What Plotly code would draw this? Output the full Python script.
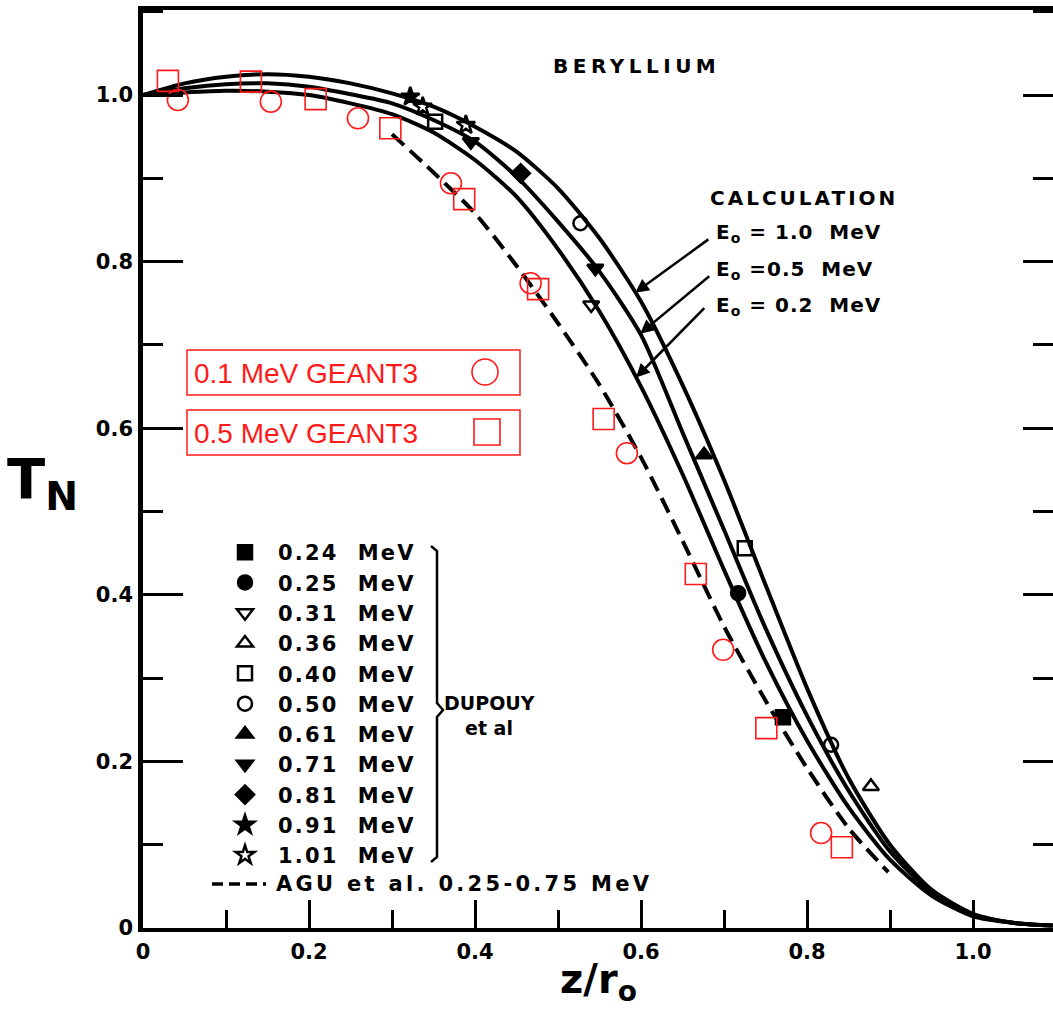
import numpy as np
import plotly.graph_objects as go

# ---------------------------------------------------------------- data
# Calculated transmission curves T_N(z/r0) for beryllium
calc_z = [0.0, 0.05, 0.10, 0.15, 0.20, 0.25, 0.30, 0.35, 0.40, 0.45, 0.50, 0.55,
          0.60, 0.65, 0.70, 0.75, 0.80, 0.85, 0.90, 0.95, 1.00, 1.05, 1.096]
t_e10 = [1.000, 1.014, 1.022, 1.025, 1.022, 1.014, 1.002, 0.986, 0.962, 0.932, 0.888, 0.828,
         0.752, 0.652, 0.538, 0.412, 0.288, 0.180, 0.100, 0.046, 0.017, 0.006, 0.003]
t_e05 = [1.000, 1.008, 1.013, 1.014, 1.010, 1.001, 0.990, 0.970, 0.944, 0.902, 0.848, 0.788,
         0.712, 0.595, 0.478, 0.360, 0.255, 0.165, 0.092, 0.043, 0.016, 0.006, 0.003]
t_e02 = [1.000, 1.003, 1.005, 1.004, 1.000, 0.990, 0.977, 0.955, 0.922, 0.878, 0.815, 0.740,
         0.650, 0.545, 0.430, 0.320, 0.225, 0.145, 0.082, 0.039, 0.014, 0.006, 0.003]

# Agu et al., 0.25-0.75 MeV
agu_z = [0.30, 0.35, 0.40, 0.45, 0.50, 0.55, 0.60, 0.65, 0.70, 0.75, 0.80, 0.85, 0.898]
agu_t = [0.953, 0.907, 0.858, 0.795, 0.726, 0.652, 0.565, 0.465, 0.362, 0.273, 0.192, 0.120, 0.067]

# GEANT3 simulations
g01_z = [0.042, 0.154, 0.259, 0.371, 0.467, 0.583, 0.699, 0.817]
g01_t = [0.994, 0.992, 0.972, 0.894, 0.774, 0.570, 0.334, 0.114]
g05_z = [0.030, 0.130, 0.208, 0.298, 0.387, 0.476, 0.555, 0.666, 0.751, 0.842]
g05_t = [1.017, 1.016, 0.995, 0.960, 0.875, 0.767, 0.611, 0.425, 0.240, 0.097]

# Dupouy et al. measurements
dup_labels = ["0.24  MeV", "0.25  MeV", "0.31  MeV", "0.36  MeV", "0.40  MeV", "0.50  MeV",
              "0.61  MeV", "0.71  MeV", "0.81  MeV", "0.91  MeV", "1.01  MeV"]
dup_symbols = ["square", "circle", "triangle-down-open", "triangle-up-open", "square-open",
               "circle-open", "triangle-up", "triangle-down", "diamond", "star", "star-open"]
dup_z = [[0.771], [0.717], [0.540], [0.877], [0.352, 0.725], [0.527, 0.829],
         [0.676], [0.395, 0.545], [0.455], [0.322], [0.337, 0.389]]
dup_t = [[0.253], [0.402], [0.748], [0.170], [0.968, 0.456], [0.846, 0.220],
         [0.568], [0.944, 0.792], [0.906], [0.998], [0.986, 0.964]]

tick_vals = [0.0, 0.2, 0.4, 0.6, 0.8, 1.0]
tick_text = ["0", "0.2", "0.4", "0.6", "0.8", "1.0"]

# ---------------------------------------------------------------- layout helpers
W, H = 1053, 1013
ML, MR, MT, MB = 143, 0, 10, 85
PW, PH = W - ML - MR, H - MT - MB


def xp(px):
    return (px - ML) / PW


def yp(py):
    return (H - MB - py) / PH


def spaced(text, px):
    return f'<span style="letter-spacing:{px}px">{text}</span>'


BOLD = dict(family="DejaVu Sans", color="black", weight="bold")
RED = "#ff1a1a"


def label(text, x, y, size, xanchor="center", **font):
    f = dict(size=size, **BOLD)
    f.update(font)
    return dict(text=text, x=xp(x), y=yp(y), xref="paper", yref="paper",
                xanchor=xanchor, yanchor="middle", showarrow=False, font=f)


fig = go.Figure()

# calculation curves
for t_vals in (t_e10, t_e05, t_e02):
    fig.add_trace(go.Scatter(x=calc_z, y=t_vals, mode="lines",
                             line=dict(color="black", width=4, shape="spline", smoothing=0.7),
                             showlegend=False, hoverinfo="skip"))

# Agu et al. dashed curve
fig.add_trace(go.Scatter(x=agu_z, y=agu_t, mode="lines",
                         line=dict(color="black", width=4, dash="16px,8px", shape="spline", smoothing=0.7),
                         showlegend=False, hoverinfo="skip"))

# Dupouy et al. points
for lab, sym, zz, tt in zip(dup_labels, dup_symbols, dup_z, dup_t):
    fig.add_trace(go.Scatter(x=zz, y=tt, mode="markers", name=spaced(lab, 2.2),
                             marker=dict(symbol=sym, size=14, color="black",
                                         line=dict(color="black", width=2.5)),
                             hoverinfo="skip"))

# GEANT3 points
fig.add_trace(go.Scatter(x=g01_z, y=g01_t, mode="markers", showlegend=False,
                         marker=dict(symbol="circle-open", size=21, color=RED, line=dict(width=1.6)),
                         hoverinfo="skip"))
fig.add_trace(go.Scatter(x=g05_z, y=g05_t, mode="markers", showlegend=False,
                         marker=dict(symbol="square-open", size=21, color=RED, line=dict(width=1.6)),
                         hoverinfo="skip"))

# invisible trace carrying the right-hand tick axis
fig.add_trace(go.Scatter(x=[0], y=[0], yaxis="y2", mode="markers", marker=dict(opacity=0),
                         showlegend=False, hoverinfo="skip"))

annotations = []
shapes = []

# plot labels
annotations.append(label(spaced("BERYLLIUM", 4.5), 636, 66, 20))
annotations.append(label(spaced("CALCULATION", 3), 804, 198, 20))
e_labels = ["E<sub>o</sub> = 1.0  MeV", "E<sub>o</sub> =0.5  MeV", "E<sub>o</sub> = 0.2  MeV"]
e_ypix = [233, 270, 306]
for txt, yy in zip(e_labels, e_ypix):
    annotations.append(label(spaced(txt, 1), 714, yy, 20, xanchor="left"))

# arrows from the energy labels to the curves
arrow_tip_z = [0.593, 0.599, 0.594]
arrow_tail = [(0.683, 0.828), (0.684, 0.784), (0.678, 0.746)]
for zt, curve, tail in zip(arrow_tip_z, (t_e10, t_e05, t_e02), arrow_tail):
    annotations.append(dict(text="", x=zt, y=float(np.interp(zt, calc_z, curve)),
                            xref="x", yref="y", axref="x", ayref="y", ax=tail[0], ay=tail[1],
                            showarrow=True, arrowhead=2, arrowsize=1.1, arrowwidth=2.5,
                            arrowcolor="black", standoff=0, startstandoff=0))

# axis titles
annotations.append(label("T<sub>N</sub>", 42, 482, 56))
annotations.append(label("z/r<sub>o</sub>", 598, 982, 40))

# GEANT3 key boxes
for (y0, y1), txt in zip([(350, 395), (410, 455)], ["0.1 MeV GEANT3", "0.5 MeV GEANT3"]):
    shapes.append(dict(type="rect", xref="paper", yref="paper", x0=xp(187), x1=xp(520),
                       y0=yp(y1), y1=yp(y0), line=dict(color=RED, width=1.5)))
    annotations.append(label(txt, 192, (y0 + y1) / 2 + 1, 28, xanchor="left",
                             family="Liberation Sans", color=RED, weight="normal"))
shapes.append(dict(type="circle", xref="paper", yref="paper", x0=xp(472), x1=xp(498),
                   y0=yp(385), y1=yp(359), line=dict(color=RED, width=1.6)))
shapes.append(dict(type="rect", xref="paper", yref="paper", x0=xp(474), x1=xp(500),
                   y0=yp(445), y1=yp(419), line=dict(color=RED, width=1.6)))

# bracket and attribution for the Dupouy et al. key
brk = [(431, 546), (437, 551), (437, 703), (443, 710), (437, 717), (437, 857), (431, 862)]
path = "M " + " L ".join(f"{xp(a):.5f},{yp(b):.5f}" for a, b in brk)
shapes.append(dict(type="path", xref="paper", yref="paper", path=path,
                   line=dict(color="black", width=2.5)))
annotations.append(label("DUPOUY", 489, 703, 19))
annotations.append(label("et al", 489, 728, 19))

# Agu et al. key line
shapes.append(dict(type="line", xref="paper", yref="paper", x0=xp(212), x1=xp(266),
                   y0=yp(884), y1=yp(884), line=dict(color="black", width=3.5, dash="11px,6px")))
annotations.append(label(spaced("AGU et al. 0.25-0.75 MeV", 3.3), 274, 884, 21, xanchor="left"))

x_max = PW / 830
y_max = PH / 833

fig.update_layout(
    width=W, height=H,
    margin=dict(l=ML, r=MR, t=MT, b=MB, pad=0),
    paper_bgcolor="white", plot_bgcolor="white",
    showlegend=True,
    legend=dict(x=xp(212), y=yp(532), xanchor="left", yanchor="top",
                font=dict(size=21, **BOLD), itemwidth=56, bgcolor="rgba(0,0,0,0)",
                borderwidth=0, traceorder="normal"),
    xaxis=dict(range=[0, x_max], showgrid=False, zeroline=False,
               showline=True, linecolor="black", linewidth=4, mirror=True,
               ticks="inside", ticklen=28, tickwidth=2.5, tickcolor="black",
               tickvals=tick_vals, ticktext=tick_text, ticklabelstandoff=2,
               tickfont=dict(size=21, **BOLD),
               minor=dict(dtick=0.1, tick0=0, ticks="inside", ticklen=18, tickwidth=2.5,
                          tickcolor="black", showgrid=False)),
    yaxis=dict(range=[0, y_max], showgrid=False, zeroline=False,
               showline=True, linecolor="black", linewidth=4.5,
               ticks="inside", ticklen=40, tickwidth=2.5, tickcolor="black",
               tickvals=tick_vals, ticktext=tick_text, ticklabelstandoff=1,
               tickfont=dict(size=21, **BOLD),
               minor=dict(dtick=0.1, tick0=0, ticks="inside", ticklen=20, tickwidth=2.5,
                          tickcolor="black", showgrid=False)),
    yaxis2=dict(range=[0, y_max], overlaying="y", side="right", showgrid=False, zeroline=False,
                showline=False, showticklabels=False, ticks="inside", ticklen=30, tickwidth=2.5,
                tickcolor="black", tickvals=tick_vals,
                minor=dict(dtick=0.1, tick0=0, ticks="inside", ticklen=20, tickwidth=2.5,
                           tickcolor="black", showgrid=False)),
    annotations=annotations,
    shapes=shapes,
)

fig.write_html("out.html")
